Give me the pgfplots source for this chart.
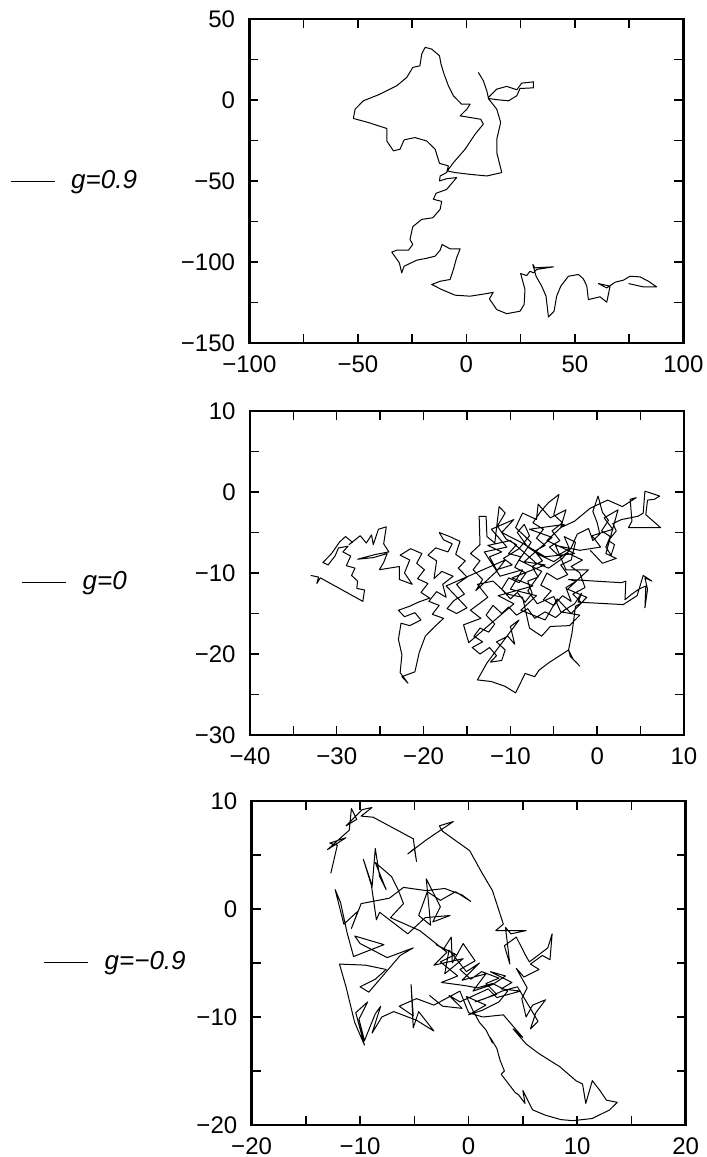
\documentclass[border=0pt]{standalone}
\usepackage{pgfplots}
\pgfplotsset{compat=1.18}
\usepackage{fontspec}
\setmainfont{Liberation Sans}
\begin{document}
\fontsize{12}{14}\selectfont
\begin{tikzpicture}
\useasboundingbox (0,0) rectangle (353.5pt,578.5pt);
\pgfplotsset{walk/.style={scale only axis, width=217pt, height=162pt, anchor=south west,
  axis line style={line width=1.2pt}, tick style={line width=0.7pt, black},
  major tick length=4.5pt, minor tick length=4.5pt, tick align=inside,
  ticklabel style={font=\fontsize{12}{14}\selectfont},
  xticklabel style={yshift=-2pt}, yticklabel style={xshift=-3pt},
  cycle list={{black, line width=0.5pt, line join=round}},
  legend style={draw=none, fill=none, anchor=west, inner sep=0pt, font=\fontsize{13}{14}\selectfont\itshape},
  legend image code/.code={\draw[black, line width=0.5pt] (0pt,0pt) -- (22pt,0pt); \path (28pt,0pt);}}}

% ---------- g = 0.9 ----------
\begin{axis}[walk, at={(124.7pt,407pt)},
  xmin=-100, xmax=100, ymin=-150, ymax=50,
  xtick={-100,-50,0,50,100}, xticklabels={−100,−50,0,50,100},
  minor xtick={-75,-25,25,75},
  ytick={-150,-100,-50,0,50}, yticklabels={−150,−100,−50,0,50},
  minor ytick={-125,-75,-25,25},
  legend style={at={(-0.552,0.498)}}]
\addplot[black, line width=0.5pt, line join=round] coordinates {(5.5,17.0)(7.8,11.9)(9.4,5.7)(10.1,1.5)(14.0,6.7)(18.6,8.4)(23.2,6.3)(25.5,10.4)(30.9,11.2)(30.9,7.5)(24.7,7.1)(23.2,2.6)(19.4,-0.5)(14.7,0.1)(10.1,0.9)(14.0,-5.7)(15.8,-13.9)(14.0,-24.2)(14.0,-32.5)(16.3,-44.8)(9.4,-46.9)(1.7,-45.9)(-5.2,-44.8)(-8.8,-43.8)(-6.0,-38.7)(-0.6,-30.4)(4.0,-21.1)(7.8,-14.9)(6.6,-11.9)(1.7,-10.8)(-2.9,-9.8)(0.2,-5.7)(1.7,-2.6)(-2.2,-2.6)(-6.0,2.6)(-8.3,8.8)(-10.3,16.0)(-11.7,22.2)(-12.4,27.3)(-16.0,31.4)(-19.0,32.5)(-20.6,28.4)(-21.4,21.1)(-24.7,20.1)(-27.5,13.9)(-32.1,8.8)(-39.8,3.6)(-47.5,-0.5)(-51.3,-5.7)(-52.1,-11.4)(-45.2,-13.9)(-36.7,-17.6)(-36.7,-25.3)(-33.6,-31.4)(-30.6,-30.4)(-28.7,-24.6)(-23.7,-23.2)(-18.3,-25.3)(-14.4,-30.4)(-12.4,-39.1)(-8.3,-40.7)(-9.1,-44.8)(-12.1,-46.9)(-12.4,-50.0)(-9.1,-48.6)(-4.5,-47.9)(-9.1,-55.2)(-14.0,-57.6)(-15.2,-61.3)(-11.4,-62.6)(-12.1,-67.5)(-15.5,-72.7)(-20.6,-73.7)(-24.7,-78.2)(-26.0,-86.1)(-24.7,-89.2)(-26.7,-92.7)(-32.1,-92.7)(-34.4,-93.9)(-30.9,-100.5)(-29.8,-106.7)(-28.7,-102.6)(-22.9,-98.9)(-18.0,-97.6)(-14.4,-96.4)(-12.1,-92.7)(-11.2,-89.2)(-7.5,-91.9)(-2.9,-91.9)(-4.5,-97.4)(-6.0,-104.6)(-7.5,-110.8)(-12.1,-111.9)(-16.0,-113.9)(-11.4,-117.0)(-5.2,-120.5)(1.7,-121.1)(9.4,-119.5)(12.4,-118.7)(10.6,-122.8)(14.0,-129.4)(18.6,-131.9)(24.7,-130.4)(26.6,-126.3)(27.0,-117.0)(25.0,-107.1)(27.8,-108.4)(29.3,-105.7)(30.9,-106.7)(32.4,-104.6)(40.1,-103.0)(31.6,-103.6)(30.6,-101.5)(32.1,-108.8)(34.7,-114.9)(36.7,-121.1)(37.8,-133.9)(40.4,-130.4)(41.6,-121.1)(43.5,-114.9)(47.0,-108.8)(51.6,-107.7)(53.9,-110.4)(55.5,-114.9)(56.2,-123.2)(61.6,-121.5)(64.7,-124.8)(66.2,-114.9)(60.8,-113.3)(64.7,-116.0)(68.5,-112.5)(72.4,-111.2)(75.4,-108.8)(80.0,-109.2)(83.9,-111.9)(87.7,-115.4)(81.6,-115.4)(74.7,-113.3)};
\addlegendentry{g=0.9}
\end{axis}

% ---------- g = 0 ----------
\begin{axis}[walk, at={(125pt,211pt)},
  xmin=-40, xmax=10, ymin=-30, ymax=10,
  xtick={-40,-30,-20,-10,0,10}, xticklabels={−40,−30,−20,−10,0,10},
  minor xtick={-35,-25,-15,-5,5},
  ytick={-30,-20,-10,0,10}, yticklabels={−30,−20,−10,0,10},
  minor ytick={-25,-15,-5,5},
  legend style={at={(-0.527,0.47)}}]
\addplot[black, line width=0.5pt, line join=round] coordinates {(-33.0,-10.3)(-32.1,-10.5)(-32.3,-11.3)(-31.9,-10.6)(-27.0,-13.5)(-26.8,-12.1)(-27.7,-11.9)(-27.6,-11.0)(-28.3,-10.3)(-27.9,-9.4)(-28.9,-9.1)(-28.4,-7.9)(-29.3,-7.4)(-28.7,-6.7)(-29.8,-6.9)(-30.2,-7.9)(-31.0,-9.0)(-31.6,-8.7)(-30.6,-7.6)(-29.7,-6.2)(-29.0,-5.5)(-28.2,-6.2)(-28.6,-6.5)(-27.3,-5.4)(-26.6,-6.3)(-26.0,-5.3)(-25.8,-6.5)(-25.2,-4.6)(-24.3,-4.3)(-24.6,-6.4)(-24.0,-7.4)(-25.5,-7.7)(-27.6,-8.3)(-25.8,-8.1)(-24.2,-7.6)(-24.6,-8.7)(-25.1,-9.6)(-22.8,-9.2)(-22.8,-10.8)(-21.3,-11.4)(-22.2,-10.0)(-21.6,-8.4)(-22.7,-7.8)(-21.5,-7.0)(-20.2,-7.6)(-20.8,-8.8)(-19.9,-9.6)(-20.7,-10.7)(-19.5,-11.3)(-20.3,-12.4)(-19.3,-13.1)(-20.6,-13.6)(-21.6,-14.1)(-22.9,-14.6)(-22.2,-15.4)(-21.0,-14.9)(-20.3,-15.8)(-21.6,-16.5)(-22.6,-16.2)(-22.9,-18.2)(-22.5,-20.1)(-22.7,-22.3)(-21.8,-23.6)(-22.5,-22.8)(-21.0,-22.2)(-20.5,-19.8)(-19.8,-17.8)(-18.8,-16.7)(-17.7,-15.6)(-19.0,-15.1)(-18.2,-14.0)(-19.4,-13.5)(-18.5,-12.3)(-17.4,-13.0)(-17.8,-11.4)(-16.6,-10.4)(-17.9,-9.8)(-18.8,-10.7)(-18.5,-8.5)(-19.5,-7.8)(-18.6,-6.9)(-17.2,-7.4)(-16.7,-6.4)(-17.7,-5.9)(-18.2,-5.0)(-17.0,-5.5)(-15.8,-6.1)(-16.3,-7.7)(-15.2,-8.5)(-16.0,-9.4)(-15.0,-10.5)(-16.2,-11.4)(-15.3,-12.6)(-16.5,-13.4)(-17.3,-14.4)(-16.2,-15.0)(-15.0,-14.3)(-17.4,-11.6)(-10.6,-8.4)(-11.6,-9.8)(-14.0,-12.2)(-13.2,-10.8)(-14.3,-9.6)(-13.5,-8.5)(-14.6,-7.6)(-13.5,-6.5)(-13.6,-3.0)(-12.8,-3.0)(-12.7,-5.5)(-11.8,-6.3)(-11.3,-1.8)(-10.6,-2.6)(-11.5,-4.2)(-10.5,-5.8)(-9.3,-6.5)(-10.2,-7.6)(-8.8,-8.0)(-9.5,-9.3)(-8.2,-10.0)(-9.0,-11.2)(-10.2,-10.6)(-11.0,-12.0)(-10.0,-13.2)(-9.2,-12.4)(-8.3,-13.6)(-7.5,-12.5)(-8.0,-11.0)(-6.8,-10.5)(-7.5,-9.2)(-6.3,-8.5)(-7.2,-7.3)(-6.0,-6.6)(-7.0,-5.7)(-6.2,-4.6)(-7.4,-3.8)(-6.5,-2.4)(-5.6,-1.3)(-4.4,-0.3)(-5.0,-2.8)(-4.0,-3.8)(-5.2,-4.8)(-4.3,-6.0)(-5.5,-6.8)(-4.5,-7.8)(-3.2,-7.0)(-3.8,-5.5)(-2.5,-6.2)(-3.0,-8.4)(-4.2,-9.0)(-3.4,-10.2)(-4.6,-10.8)(-5.8,-10.0)(-6.5,-11.5)(-5.3,-12.2)(-6.2,-13.3)(-5.0,-14.0)(-4.0,-12.8)(-3.0,-13.5)(-3.6,-11.8)(-2.4,-11.0)(-3.3,-10.8)(2.8,-11.2)(3.3,-11.0)(3.2,-13.3)(4.0,-12.6)(4.8,-12.0)(5.6,-11.6)(5.5,-14.3)(5.8,-12.0)(5.5,-10.6)(6.3,-11.0)(5.3,-10.3)(4.6,-12.8)(3.0,-13.9)(-2.2,-13.6)(-1.8,-12.5)(-2.6,-13.8)(-3.8,-14.6)(-4.8,-15.5)(-6.0,-14.8)(-7.2,-15.6)(-8.0,-14.4)(-9.3,-15.2)(-10.2,-14.2)(-11.0,-15.0)(-12.0,-14.0)(-12.8,-15.2)(-11.8,-16.3)(-12.5,-17.3)(-13.5,-16.8)(-14.2,-17.8)(-13.2,-18.5)(-14.4,-19.2)(-13.5,-20.0)(-12.4,-19.2)(-11.6,-20.2)(-12.3,-21.0)(-11.0,-20.8)(-10.6,-19.5)(-11.6,-18.5)(-10.3,-17.8)(-9.5,-18.8)(-10.0,-16.6)(-9.0,-15.8)(-12.7,-21.1)(-13.8,-23.2)(-12.2,-23.4)(-10.6,-24.0)(-9.4,-24.8)(-8.3,-22.4)(-7.2,-22.8)(-6.7,-22.0)(-5.6,-21.1)(-3.3,-19.5)(-3.1,-20.3)(-2.0,-21.5)(-2.8,-20.6)(-3.3,-19.5)(-2.9,-17.4)(-2.5,-14.1)(-1.8,-13.7)(-2.8,-12.6)(-1.4,-11.8)(-2.0,-10.0)(-3.0,-9.2)(-1.7,-8.4)(-3.5,-7.5)(-5.0,-8.6)(-6.6,-7.8)(-8.0,-6.8)(-9.2,-5.0)(-8.4,-4.0)(-7.8,-5.4)(-9.0,-7.0)(-10.8,-8.2)(-9.8,-9.0)(-11.6,-9.6)(-12.4,-8.0)(-11.0,-7.4)(-12.6,-6.6)(-10.0,-6.0)(-8.5,-7.4)(-7.0,-8.8)(-5.6,-9.4)(-4.0,-8.2)(-3.0,-6.9)(-2.3,-5.2)(-1.0,-4.5)(-0.5,-6.0)(0.3,-5.2)(0.0,-3.8)(-0.5,-2.4)(0.1,-0.5)(0.6,-2.5)(1.3,-3.5)(0.5,-4.8)(1.5,-5.5)(1.0,-6.8)(1.6,-7.8)(2.0,-6.5)(1.3,-6.0)(2.2,-4.8)(1.8,-3.9)(2.8,-3.4)(4.7,-3.0)(5.3,-2.6)(5.5,0.1)(7.2,-0.5)(6.6,-0.9)(5.8,-1.0)(5.6,-2.8)(7.3,-4.4)(3.6,-4.4)(4.0,-3.6)(3.8,-0.9)(4.5,-0.7)(2.9,-1.8)(1.2,-1.0)(-0.8,-2.0)(-2.6,-3.6)(-4.2,-4.4)(-3.6,-2.2)(-5.4,-3.2)(-6.8,-1.5)(-7.0,-3.4)(-8.6,-2.6)(-9.4,-4.4)(-7.6,-6.2)(-9.0,-8.4)(-6.4,-9.8)(-8.0,-12.2)(-6.9,-13.8)(-5.0,-12.9)(-4.2,-14.8)(-2.0,-15.2)(-3.2,-16.5)(-5.4,-16.6)(-6.4,-17.8)(-7.8,-16.8)(-8.6,-13.0)(-10.4,-12.6)(-12.0,-11.0)(-13.8,-11.4)(-12.6,-13.0)(-14.6,-14.6)(-13.4,-15.6)(-15.4,-16.4)(-14.8,-18.6)(-12.0,-16.0)(-9.6,-13.8)(-11.4,-12.8)(-7.4,-11.6)(-9.8,-10.6)(-6.0,-9.0)(-8.4,-8.6)(-5.2,-5.6)(-7.8,-4.6)(-3.8,-4.0)(-5.8,-6.0)(-2.6,-7.6)(-6.0,-8.0)(-8.8,-6.2)(-11.0,-5.0)(-9.6,-3.4)(-12.2,-4.6)(-10.4,-6.8)(-13.0,-7.4)(-11.2,-10.4)(-8.6,-9.6)(-10.0,-12.0)(-7.0,-12.8)(-8.8,-14.6)(-6.0,-15.8)(-4.6,-13.2)(-3.0,-15.0)(-1.2,-13.0)(-3.4,-12.0)(-1.0,-9.6)(-3.6,-9.6)(-4.8,-6.6)(-2.0,-7.2)(0.4,-6.8)(-0.6,-5.4)(1.8,-4.6)(0.8,-3.2)(2.4,-2.2)(1.0,-7.6)(2.2,-8.2)(0.6,-8.8)(-0.8,-7.2)};
\addlegendentry{g=0}
\end{axis}

% ---------- g = -0.9 ----------
\begin{axis}[walk, at={(125.8pt,16pt)},
  xmin=-20, xmax=20, ymin=-20, ymax=10,
  xtick={-20,-10,0,10,20}, xticklabels={−20,−10,0,10,20},
  minor xtick={-15,-5,5,15},
  ytick={-20,-10,0,10}, yticklabels={−20,−10,0,10},
  minor ytick={-15,-5,5},
  legend style={at={(-0.48,0.503)}}]
\addplot[black, line width=0.5pt, line join=round] coordinates {(-12.7,3.3)(-12.1,5.9)(-12.8,6.1)(-11.3,6.6)(-13.0,5.5)(-11.0,7.3)(-10.8,9.3)(-10.3,8.3)(-11.3,7.7)(-9.8,9.2)(-8.9,9.4)(-9.9,8.6)(-8.8,8.5)(-5.1,6.5)(-4.8,4.4)(-5.0,5.6)(-5.6,5.1)(-3.9,6.4)(-1.4,8.1)(-2.7,7.7)(-2.4,7.2)(0.1,5.4)(1.2,3.4)(2.2,1.7)(3.2,-1.4)(2.5,-2.0)(5.3,-2.0)(3.9,-2.3)(3.4,-1.7)(3.8,-5.1)(3.3,-3.4)(4.4,-2.6)(5.2,-4.2)(5.6,-4.9)(7.3,-3.6)(7.7,-2.3)(7.5,-4.7)(6.8,-4.3)(5.7,-5.1)(6.5,-5.6)(5.1,-6.3)(4.4,-5.5)(5.4,-7.3)(4.9,-8.3)(5.3,-10.0)(5.9,-8.9)(7.1,-8.4)(6.2,-9.6)(5.7,-11.1)(6.4,-10.4)(4.5,-7.2)(3.1,-7.6)(1.5,-8.3)(0.6,-8.6)(2.6,-7.9)(1.6,-6.9)(2.8,-6.4)(1.2,-5.8)(0.2,-6.5)(-0.8,-5.6)(0.6,-4.8)(-0.5,-3.2)(-1.5,-5.0)(-1.6,-2.6)(-2.3,-3.7)(-3.0,-3.3)(-1.2,-4.2)(-2.6,-4.9)(-1.0,-6.2)(-2.5,-6.8)(-0.3,-7.1)(0.8,-7.3)(2.2,-6.9)(3.6,-7.6)(2.8,-8.6)(1.2,-9.4)(0.0,-9.8)(1.6,-8.9)(-0.2,-8.1)(0.4,-9.4)(1.0,-10.5)(1.6,-11.2)(2.2,-12.4)(2.0,-11.9)(2.6,-12.9)(2.9,-14.0)(3.3,-15.0)(3.0,-15.3)(4.3,-17.0)(4.6,-17.2)(5.2,-18.0)(5.0,-16.8)(5.9,-18.6)(7.1,-19.1)(8.5,-19.5)(9.6,-19.6)(11.4,-19.4)(13.0,-18.6)(13.7,-17.9)(12.7,-17.7)(12.1,-16.8)(11.4,-15.9)(10.8,-18.0)(10.5,-16.2)(9.9,-15.9)(8.4,-14.6)(6.5,-13.4)(5.3,-12.5)(4.1,-11.1)(5.0,-11.9)(3.2,-9.8)(1.3,-10.0)(0.0,-9.6)(-0.8,-7.6)(-3.2,-8.9)(-4.8,-8.3)(-6.4,-9.0)(-5.1,-9.9)(-5.3,-7.0)(-5.1,-11.0)(-4.6,-9.5)(-3.2,-11.3)(-4.8,-10.3)(-6.9,-9.5)(-8.0,-10.0)(-8.9,-11.5)(-8.1,-9.0)(-8.6,-9.7)(-9.6,-12.2)(-10.1,-10.2)(-9.3,-8.6)(-10.4,-9.6)(-9.6,-12.6)(-10.5,-10.5)(-11.3,-7.2)(-11.9,-5.1)(-9.5,-5.2)(-7.6,-5.6)(-8.6,-6.5)(-10.0,-7.2)(-9.2,-7.7)(-6.3,-4.3)(-5.1,-3.6)(-7.5,-4.5)(-10.0,-3.2)(-10.5,-2.5)(-7.8,-3.3)(-10.6,-4.4)(-11.2,-2.2)(-11.8,0.6)(-12.3,1.8)(-11.5,-1.4)(-10.2,-0.2)(-10.8,-1.8)(-9.9,0.5)(-7.3,1.0)(-6.0,2.0)(-3.9,1.7)(-2.2,1.9)(-0.6,1.3)(0.2,0.7)(-1.2,1.6)(-2.6,0.8)(-3.8,1.6)(-4.6,-0.6)(-3.5,-1.5)(-3.9,2.8)(-2.6,0.2)(-3.3,-1.2)(-1.7,-0.6)(-4.0,-0.8)(-5.6,-2.3)(-6.9,-1.3)(-8.2,-0.3)(-8.5,-1.0)(-9.0,2.5)(-9.7,4.6)(-8.9,2.0)(-8.6,5.6)(-8.2,3.0)(-7.6,1.8)(-8.6,4.3)(-7.1,3.0)(-6.5,1.8)(-6.0,0.5)(-7.2,-0.8)(-4.5,-2.0)(-2.0,-4.0)(-3.2,-5.2)(-0.5,-4.6)(-2.2,-6.0)(-1.8,-3.8)(-0.2,-5.8)(1.0,-5.0)(-0.6,-6.6)(1.6,-6.0)(0.4,-7.6)(2.2,-7.0)(3.4,-6.2)(2.0,-5.8)(4.0,-6.8)(3.0,-7.4)(4.8,-7.6)(2.6,-8.2)(1.8,-7.4)(-0.8,-8.6)(-1.8,-8.0)(-0.6,-9.2)(-2.4,-9.0)(-3.6,-8.0)};
\addlegendentry{g=−0.9}
\end{axis}
\end{tikzpicture}
\end{document}
